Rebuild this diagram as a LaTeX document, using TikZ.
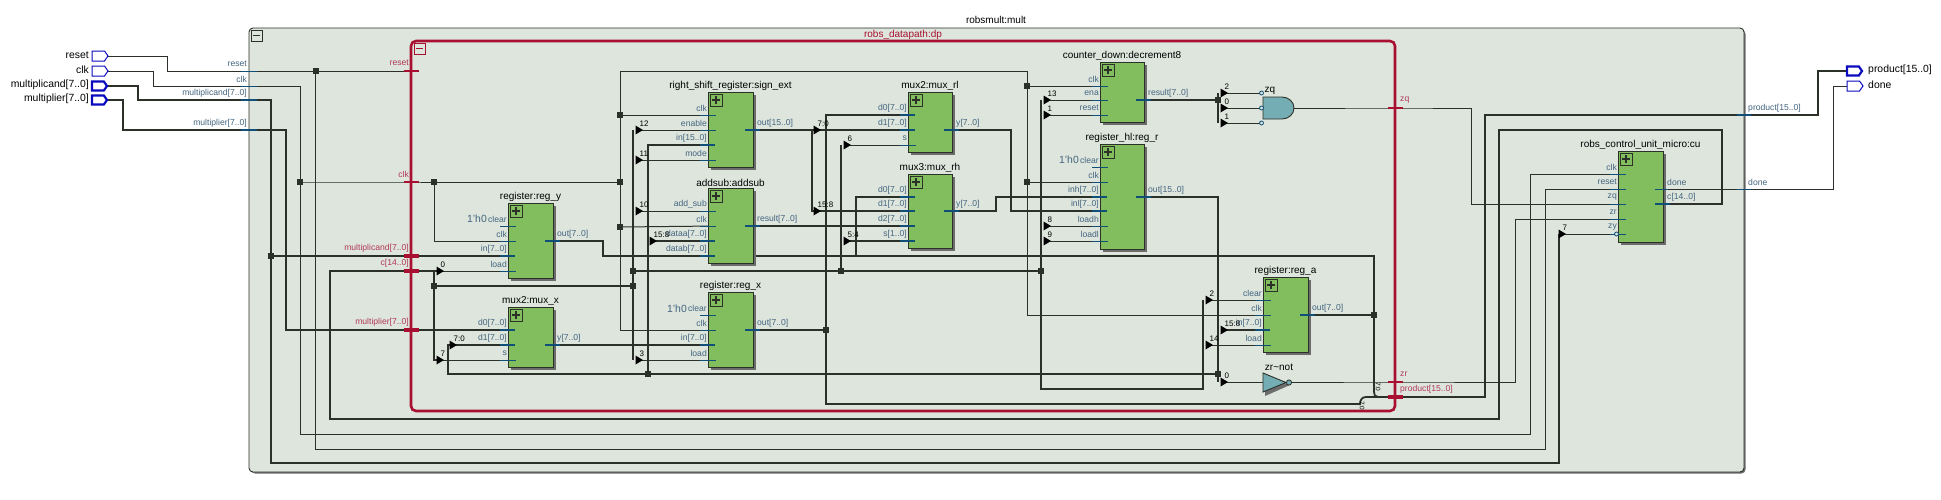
\documentclass[tikz,border=0pt]{standalone}
\usepackage{fontspec}
\setmainfont{Liberation Sans}
\usetikzlibrary{shapes.symbols}
\definecolor{wirec}{HTML}{2B3029}
\definecolor{paper}{HTML}{DDE5DD}
\definecolor{green}{HTML}{82BE5E}
\definecolor{redc}{HTML}{A80F30}
\definecolor{stubc}{HTML}{0F4F78}
\definecolor{labc}{HTML}{44657F}
\definecolor{redl}{HTML}{B23A55}
\definecolor{portc}{HTML}{0A0ABE}
\definecolor{gatec}{HTML}{74ADB4}
\pgfdeclarelayer{frame}
\pgfdeclarelayer{wires}
\pgfsetlayers{frame,wires,main}
\tikzset{
  wire/.style={draw=wirec,line width=1pt},
  bus/.style={draw=wirec,line width=1.8pt},
  unit/.style={draw=wirec,fill=green,line width=0.9pt,anchor=north west,minimum width=45,inner sep=0,outer sep=0},
  plusicon/.style={draw=wirec,fill=green,line width=0.9pt,minimum size=11.5,inner sep=0,anchor=north west},
  minusicon/.style={draw=#1,fill=paper,line width=0.9pt,minimum size=11,inner sep=0,anchor=north west},
  title/.style={font=\fontsize{10}{11}\selectfont,text=black,inner sep=0,anchor=south},
  pinlab/.style={font=\fontsize{8.6}{9}\selectfont,text=labc,inner sep=0},
  redlab/.style={font=\fontsize{8.6}{9}\selectfont,text=redl,inner sep=0},
  tieoff/.style={font=\fontsize{10.4}{11}\selectfont,text=labc,inner sep=0,anchor=east},
  tapno/.style={font=\fontsize{8}{9}\selectfont,text=black,inner sep=0,anchor=west},
  sideno/.style={font=\fontsize{6.5}{7}\selectfont,text=black,inner sep=0,rotate=-90},
  junc/.style={fill=wirec,inner sep=0,minimum size=6,outer sep=0},
  port/.style={draw=portc,fill=white,shape=signal,signal to=east,signal pointer angle=110,
    minimum width=16,minimum height=10,inner sep=0,outer sep=0,line width=1pt},
  portbus/.style={port,line width=2.2pt,minimum width=15,minimum height=9},
  portlab/.style={font=\fontsize{10.4}{11}\selectfont,text=black,inner sep=0},
}
\newcommand{\unitbox}[6]{% name, x, y, height, title, width
  \fill[gray!85!black] (#2+2.5,#3+2.5) rectangle (#2+#6+2.5,#3+#4+2.5);
  \node[unit,minimum height=#4,minimum width=#6] (#1) at (#2,#3) {};
  \node[plusicon] (#1-plus) at (#2+2,#3+2) {};
  \draw[wirec,line width=1.6pt] (#2+4,#3+7.8) -- (#2+11.5,#3+7.8) (#2+7.8,#3+4) -- (#2+7.8,#3+11.5);
  \node[title] (#1-title) at (#2+#6/2,#3-1) {#5};
}
\newcommand{\lpin}[4]{% name, block x, y, text
  \coordinate (#1) at (#2+8,#3);
  \draw[stubc,line width=0.9pt] (#2-8,#3) -- (#2+8,#3);
  \node[pinlab,anchor=east] (#1-lab) at (#2-1,#3-7) {#4};
}
\newcommand{\lbus}[4]{%
  \coordinate (#1) at (#2+7,#3);
  \draw[stubc,line width=1.8pt] (#2-8,#3) -- (#2+7,#3);
  \node[pinlab,anchor=east] (#1-lab) at (#2-1,#3-7) {#4};
}
\newcommand{\rpin}[4]{%
  \coordinate (#1) at (#2-8,#3);
  \draw[stubc,line width=0.9pt] (#2-8,#3) -- (#2+5,#3);
  \node[pinlab,anchor=west] (#1-lab) at (#2+4,#3-7) {#4};
}
\newcommand{\rbus}[4]{%
  \coordinate (#1) at (#2-8,#3);
  \draw[stubc,line width=1.8pt] (#2-8,#3) -- (#2+7,#3);
  \node[pinlab,anchor=west] (#1-lab) at (#2+4,#3-7) {#4};
}
\newcommand{\tapin}[4]{% name, x, y, number
  \coordinate (#1) at (#2,#3);
  \fill[black] (#2-0.5,#3-4.5) -- (#2+7,#3) -- (#2-0.5,#3+4.5) -- cycle;
  \node[tapno] (#1-no) at (#2+3.5,#3-6.5) {#4};
}
\newcommand{\redbar}[3]{% name, x, y
  \coordinate (#1) at (#2,#3);
  \draw[redc,line width=2pt] (#2-7.5,#3) -- (#2+7.5,#3);
}
\newcommand{\redbus}[3]{%
  \coordinate (#1) at (#2,#3);
  \draw[redc,line width=3.4pt] (#2-7.5,#3) -- (#2+7.5,#3);
}
\begin{document}
\begin{tikzpicture}[x=1pt,y=-1pt]
  \useasboundingbox (0,0) rectangle (1941,499);

  % frames
  \begin{pgfonlayer}{frame}
    \fill[white] (0,0) rectangle (1941,499);
    \fill[gray!85!black,rounded corners=4] (251,30) rectangle (1745.5,473.5);
    \draw[fill=paper,draw=wirec,line width=0.9pt,rounded corners=4] (249,28) rectangle (1744,472);
  \end{pgfonlayer}
  \draw[redc,line width=2.6pt,rounded corners=5] (411,41) rectangle (1395,411);
  \node[minusicon=wirec] (outericon) at (251,30) {};
  \draw[wirec,line width=1.4pt] (253,35.5) -- (260,35.5);
  \node[minusicon=redc] (redicon) at (413.5,43) {};
  \draw[redc,line width=1.4pt] (415.5,48.5) -- (422.5,48.5);
  \node[title] (multtitle) at (996,24) {robsmult:mult};
  \node[title,text=redc] (dptitle) at (903,39.5) {robs\_datapath:dp};

  % top ports
  \node[port,anchor=west] (resetin) at (92,56) {};
  \node[port,anchor=west] (clkin) at (92,71) {};
  \node[portbus,anchor=west] (multcandin) at (92,86) {};
  \node[portbus,anchor=west] (multplierin) at (92,100) {};
  \node[portbus,anchor=west] (productout) at (1847,71) {};
  \node[port,anchor=west] (doneout) at (1847,86) {};
  \foreach \portname/\y/\lab in {resetin/55/reset,clkin/70/clk,multcandin/85/multiplicand[7..0],multplierin/99/multiplier[7..0]}{
    \node[portlab,anchor=east] (\portname-lab) at (89,\y) {\lab};
  }
  \node[portlab,anchor=west] (productlab) at (1868,70) {product[15..0]};
  \node[portlab,anchor=west] (donelab) at (1868,85) {done};

  % blocks
  \unitbox{regy}{508}{203}{75}{register:reg\_y}{45}
  \unitbox{muxx}{508}{307}{60}{mux2:mux\_x}{45}
  \unitbox{signext}{708}{92}{75}{right\_shift\_register:sign\_ext}{45}
  \unitbox{addsub}{708}{188}{75}{addsub:addsub}{45}
  \unitbox{regx}{708}{292}{75}{register:reg\_x}{45}
  \unitbox{muxrl}{908}{92}{60}{mux2:mux\_rl}{44}
  \unitbox{muxrh}{908}{174}{74}{mux3:mux\_rh}{44}
  \unitbox{decr}{1100}{62}{60}{counter\_down:decrement8}{44}
  \unitbox{regr}{1100}{144}{105}{register\_hl:reg\_r}{44}
  \unitbox{rega}{1263}{277}{75}{register:reg\_a}{45}
  \unitbox{cu}{1618}{151}{91}{robs\_control\_unit\_micro:cu}{45}

  % pins
  \foreach \pinname/\y/\lab in {regy-clear/226/clear,regy-clk/241/clk,regy-load/271/load}{\lpin{\pinname}{508}{\y}{\lab}}
  \lbus{regy-in}{508}{256}{in[7..0]}
  \rbus{regy-out}{553}{241}{out[7..0]}
  \lbus{muxx-d0}{508}{330}{d0[7..0]}
  \lbus{muxx-d1}{508}{345}{d1[7..0]}
  \lpin{muxx-s}{508}{360}{s}
  \rbus{muxx-y}{553}{345}{y[7..0]}
  \foreach \pinname/\y/\lab in {ext-clk/115/clk,ext-enable/130/enable,ext-mode/160/mode}{\lpin{\pinname}{708}{\y}{\lab}}
  \lbus{ext-in}{708}{145}{in[15..0]}
  \rbus{ext-out}{753}{130}{out[15..0]}
  \foreach \pinname/\y/\lab in {add-sub/211/add\_sub,add-clk/226/clk}{\lpin{\pinname}{708}{\y}{\lab}}
  \lbus{add-a}{708}{241}{dataa[7..0]}
  \lbus{add-b}{708}{256}{datab[7..0]}
  \rbus{add-res}{753}{226}{result[7..0]}
  \foreach \pinname/\y/\lab in {regx-clear/315/clear,regx-clk/330/clk,regx-load/360/load}{\lpin{\pinname}{708}{\y}{\lab}}
  \lbus{regx-in}{708}{345}{in[7..0]}
  \rbus{regx-out}{753}{330}{out[7..0]}
  \lbus{rl-d0}{908}{115}{d0[7..0]}
  \lbus{rl-d1}{908}{130}{d1[7..0]}
  \lpin{rl-s}{908}{145}{s}
  \rbus{rl-y}{952}{130}{y[7..0]}
  \lbus{rh-d0}{908}{197}{d0[7..0]}
  \lbus{rh-d1}{908}{211}{d1[7..0]}
  \lbus{rh-d2}{908}{226}{d2[7..0]}
  \lbus{rh-s}{908}{241}{s[1..0]}
  \rbus{rh-y}{952}{211}{y[7..0]}
  \foreach \pinname/\y/\lab in {dec-clk/86/clk,dec-ena/100/ena,dec-reset/115/reset}{\lpin{\pinname}{1100}{\y}{\lab}}
  \rbus{dec-res}{1144}{100}{result[7..0]}
  \foreach \pinname/\y/\lab in {regr-clear/167/clear,regr-clk/182/clk,regr-loadh/226/loadh,regr-loadl/241/loadl}{\lpin{\pinname}{1100}{\y}{\lab}}
  \lbus{regr-inh}{1100}{197}{inh[7..0]}
  \lbus{regr-inl}{1100}{211}{inl[7..0]}
  \rbus{regr-out}{1144}{197}{out[15..0]}
  \foreach \pinname/\y/\lab in {rega-clear/300/clear,rega-clk/315/clk,rega-load/345/load}{\lpin{\pinname}{1263}{\y}{\lab}}
  \lbus{rega-in}{1263}{330}{in[7..0]}
  \rbus{rega-out}{1308}{315}{out[7..0]}
  \foreach \pinname/\y/\lab in {cu-clk/174/clk,cu-reset/189/reset,cu-zq/204/zq,cu-zr/219/zr,cu-zy/234/zy}{\lpin{\pinname}{1618}{\y}{\lab}}
  \rpin{cu-done}{1663}{189}{done}
  \rbus{cu-c}{1663}{204}{c[14..0]}
  \draw[stubc,fill=paper,line width=0.8pt] (1616.5,234) circle [radius=2];

  % constants
  \node[tieoff] (regy-tie) at (487,219) {1'h0};
  \node[tieoff] (regx-tie) at (687,309) {1'h0};
  \node[tieoff] (regr-tie) at (1079,160) {1'h0};

  % gates
  \node[title] (zqtitle) at (1270,95) {zq};
  \draw[wirec,fill=gatec,line width=0.9pt] (1263,97) -- (1282,97) arc [start angle=90,end angle=-90,x radius=12,y radius=-11] -- (1263,119) -- cycle;
  \coordinate (zq-out) at (1294,108);
  \foreach \pinname/\y in {zq-a/93,zq-b/108,zq-c/123}{
    \coordinate (\pinname) at (1261,\y);
    \draw[stubc,fill=paper,line width=0.8pt] (1261.5,\y) circle [radius=2];
  }
  \node[title] (nottitle) at (1279,371) {zr\textasciitilde not};
  \fill[gray!85!black] (1265,376) -- (1265,396) -- (1290,385) -- cycle;
  \draw[wirec,fill=gatec,line width=0.9pt] (1263,373) -- (1263,392) -- (1286,382.5) -- cycle;
  \draw[wirec,fill=gatec,line width=0.8pt] (1289,382.5) circle [radius=2.6];
  \coordinate (not-in) at (1263,382);
  \coordinate (not-out) at (1291,382);

  % red bars
  \foreach \barname/\x/\y in {rb-reset/411/71,rb-clk/411/182,rb-zq/1395/108,rb-zr/1395/382}{\redbar{\barname}{\x}{\y}}
  \foreach \barname/\x/\y in {rb-cand/411/256,rb-c/411/271,rb-plier/411/330,rb-prod/1395/397}{\redbus{\barname}{\x}{\y}}
  \node[redlab,anchor=east] (rl-reset) at (409,63) {reset};
  \node[redlab,anchor=east] (rl-clk) at (409,174) {clk};
  \node[redlab,anchor=east] (rl-cand) at (409,248) {multiplicand[7..0]};
  \node[redlab,anchor=east] (rl-c) at (409,263) {c[14..0]};
  \node[redlab,anchor=east] (rl-plier) at (409,322) {multiplier[7..0]};
  \node[redlab,anchor=west] (rl-zq) at (1400,100) {zq};
  \node[redlab,anchor=west] (rl-zr) at (1400,374) {zr};
  \node[redlab,anchor=west] (rl-prod) at (1400,389) {product[15..0]};

  % outer boundary labels and stubs
  \node[pinlab,anchor=east] (ol-reset) at (247,64) {reset};
  \node[pinlab,anchor=east] (ol-clk) at (247,79) {clk};
  \node[pinlab,anchor=east] (ol-cand) at (247,93) {multiplicand[7..0]};
  \node[pinlab,anchor=east] (ol-plier) at (247,123) {multiplier[7..0]};
  \node[pinlab,anchor=west] (ol-prod) at (1748,108) {product[15..0]};
  \node[pinlab,anchor=west] (ol-done) at (1748,182) {done};
  \draw[stubc,line width=1.2pt] (241,100) -- (257,100) (241,130) -- (257,130) (1737,115) -- (1751,115);
  \draw[stubc,line width=0.7pt] (241,71) -- (257,71) (241,86) -- (257,86) (1737,189) -- (1751,189);

  % joints
  \foreach \jname/\x/\y in {j-reset/315.5/71,j-clko/300/182,j-clki/434/182,j-cand/271/256,j-c/434/286,j-ctl/633/271,
    j-clkv/620/182,j-ext/620/115,j-add/620/227,j-rh/841/271,j-dec/1027/86,j-regr/1027/182,j-ctr/1041/271,
    j-res/1218/100,j-out/1218/374,j-x/826/330,j-a/1374/315,j-sel/633/286,j-d1/648/374}{
    \node[junc] (\jname) at (\x,\y) {};
  }

  % taps
  \tapin{t-reg0}{437}{271}{0}
  \tapin{t-mux7}{437}{360}{7}
  \tapin{t-muxd}{450}{345}{7:0}
  \tapin{t-12}{636}{130}{12}
  \tapin{t-11}{636}{160}{11}
  \tapin{t-10}{636}{211}{10}
  \tapin{t-3}{636}{360}{3}
  \tapin{t-158}{650}{241}{15:8}
  \tapin{t-rl}{814}{130}{7:0}
  \tapin{t-rh}{814}{211}{15:8}
  \tapin{t-6}{844}{145}{6}
  \tapin{t-54}{844}{241}{5:4}
  \tapin{t-13}{1044}{100}{13}
  \tapin{t-1}{1044}{115}{1}
  \tapin{t-8}{1044}{226}{8}
  \tapin{t-9}{1044}{241}{9}
  \tapin{t-a2}{1206}{300}{2}
  \tapin{t-a14}{1206}{345}{14}
  \tapin{t-a158}{1221}{330}{15:8}
  \tapin{t-a0}{1221}{382}{0}
  \tapin{t-z2}{1221}{93}{2}
  \tapin{t-z0}{1221}{108}{0}
  \tapin{t-z1}{1221}{123}{1}
  \tapin{t-cu7}{1559}{234}{7}
  \node[sideno] (prod-hi) at (1378,387) {7:0};
  \node[sideno] (prod-lo) at (1362,406) {7:0};

  \begin{pgfonlayer}{wires}
    % clock and reset nets
    \draw[wire] (resetin.east) -- (167.5,56) -- (167.5,71) -- (j-reset) -- (rb-reset);
    \draw[wire] (j-reset) -- (315.5,449) -- (1545,449) -- (1545,189) -- (cu-reset);
    \draw[wire] (clkin.east) -- (153,71) -- (153,86) -- (300,86) -- (j-clko);
    \draw[wire] (j-clko) -- (300,434) -- (1530,434) -- (1530,174) -- (cu-clk);
    \draw[wire] (j-clko) -- (rb-clk) -- (j-clki) -- (j-clkv);
    \draw[wire] (j-clki) -- (434,241) -- (regy-clk);
    \draw[wire] (regx-clk) -- (620,330) -- (j-add) -- (j-clkv) -- (j-ext) -- (620,71) -- (1027,71) -- (j-dec) -- (j-regr) -- (1027,315) -- (rega-clk);
    \draw[wire] (j-ext) -- (ext-clk);
    \draw[wire] (j-add) -- (add-clk);
    \draw[wire] (j-dec) -- (dec-clk);
    \draw[wire] (j-regr) -- (regr-clk);
    % data from the ports
    \draw[bus] (multcandin.east) -- (138,86) -- (138,100) -- (271,100) -- (j-cand) -- (rb-cand) -- (regy-in);
    \draw[bus] (j-cand) -- (271,463) -- (1559,463) -- (t-cu7);
    \draw[bus] (multplierin.east) -- (123,100) -- (123,130) -- (286,130) -- (286,330) -- (rb-plier) -- (muxx-d0);
    % control word
    \draw[bus] (cu-c) -- (1722,204) -- (1722,130) -- (1499,130) -- (1499,419) -- (330,419) -- (330,271) -- (rb-c) -- (t-reg0);
    \draw[bus] (434,271) -- (j-c) -- (434,360) -- (t-mux7);
    \draw[bus] (j-c) -- (j-sel) -- (j-ctl);
    \draw[bus] (633,130) -- (633,360);
    \draw[bus] (j-ctl) -- (j-rh) -- (j-ctr);
    \draw[bus] (841,145) -- (j-rh);
    \draw[bus] (1041,100) -- (j-ctr) -- (1041,389) -- (1203,389) -- (1203,300);
    % thin control taps
    \foreach \a/\b in {t-reg0/regy-load,t-mux7/muxx-s,t-12/ext-enable,t-11/ext-mode,t-10/add-sub,t-3/regx-load,
      t-6/rl-s,t-13/dec-ena,t-1/dec-reset,t-8/regr-loadh,t-9/regr-loadl,t-a2/rega-clear,t-a14/rega-load,t-cu7/cu-zy,
      t-z2/zq-a,t-z0/zq-b,t-z1/zq-c}{
      \draw[wire] (\a) -- (\b);
    }
    \draw[bus] (t-54) -- (rh-s);
    % data buses
    \draw[bus] (regy-out) -- (603,241) -- (603,256) -- (add-b) (603,256) -- (856,256) -- (856,197) -- (rh-d0);
    \draw[bus] (856,256) -- (1374,256) -- (j-a) -- (1374,392) .. controls (1374,395) and (1375,397) .. (1378,397);
    \draw[bus] (j-a) -- (rega-out);
    \draw[bus] (muxx-y) -- (regx-in);
    \draw[bus] (j-d1) -- (448,374) -- (448,345) -- (muxx-d1);
    \draw[bus] (j-d1) -- (j-out);
    \draw[bus] (j-d1) -- (648,145) -- (ext-in);
    \draw[bus] (t-158) -- (add-a);
    \draw[bus] (ext-out) -- (rl-d1);
    \draw[bus] (812,130) -- (812,211) -- (rh-d1);
    \draw[bus] (add-res) -- (rh-d2);
    \draw[bus] (regx-out) -- (j-x);
    \draw[bus] (rl-d0) -- (826,115) -- (j-x) -- (826,404) -- (1360,404) .. controls (1360,400) and (1362,397) .. (1366,397) -- (rb-prod) -- (1485,397) -- (1485,115) -- (1818,115) -- (1818,71) -- (productout.west);
    \draw[bus] (rl-y) -- (1011,130) -- (1011,211) -- (regr-inl);
    \draw[bus] (rh-y) -- (996,211) -- (996,197) -- (regr-inh);
    \draw[bus] (regr-out) -- (1218,197) -- (j-out) -- (1218,382);
    \draw[bus] (t-a158) -- (rega-in);
    \draw[bus] (dec-res) -- (j-res);
    \draw[bus] (1218,93) -- (1218,123);
    % status and done
    \draw[wire] (zq-out) -- (rb-zq) -- (1471,108) -- (1471,204) -- (cu-zq);
    \draw[wire] (t-a0) -- (not-in);
    \draw[wire] (not-out) -- (rb-zr) -- (1515,382) -- (1515,219) -- (cu-zr);
    \draw[wire] (cu-done) -- (1833,189) -- (1833,86) -- (doneout.west);
  \end{pgfonlayer}
\end{tikzpicture}
\end{document}
